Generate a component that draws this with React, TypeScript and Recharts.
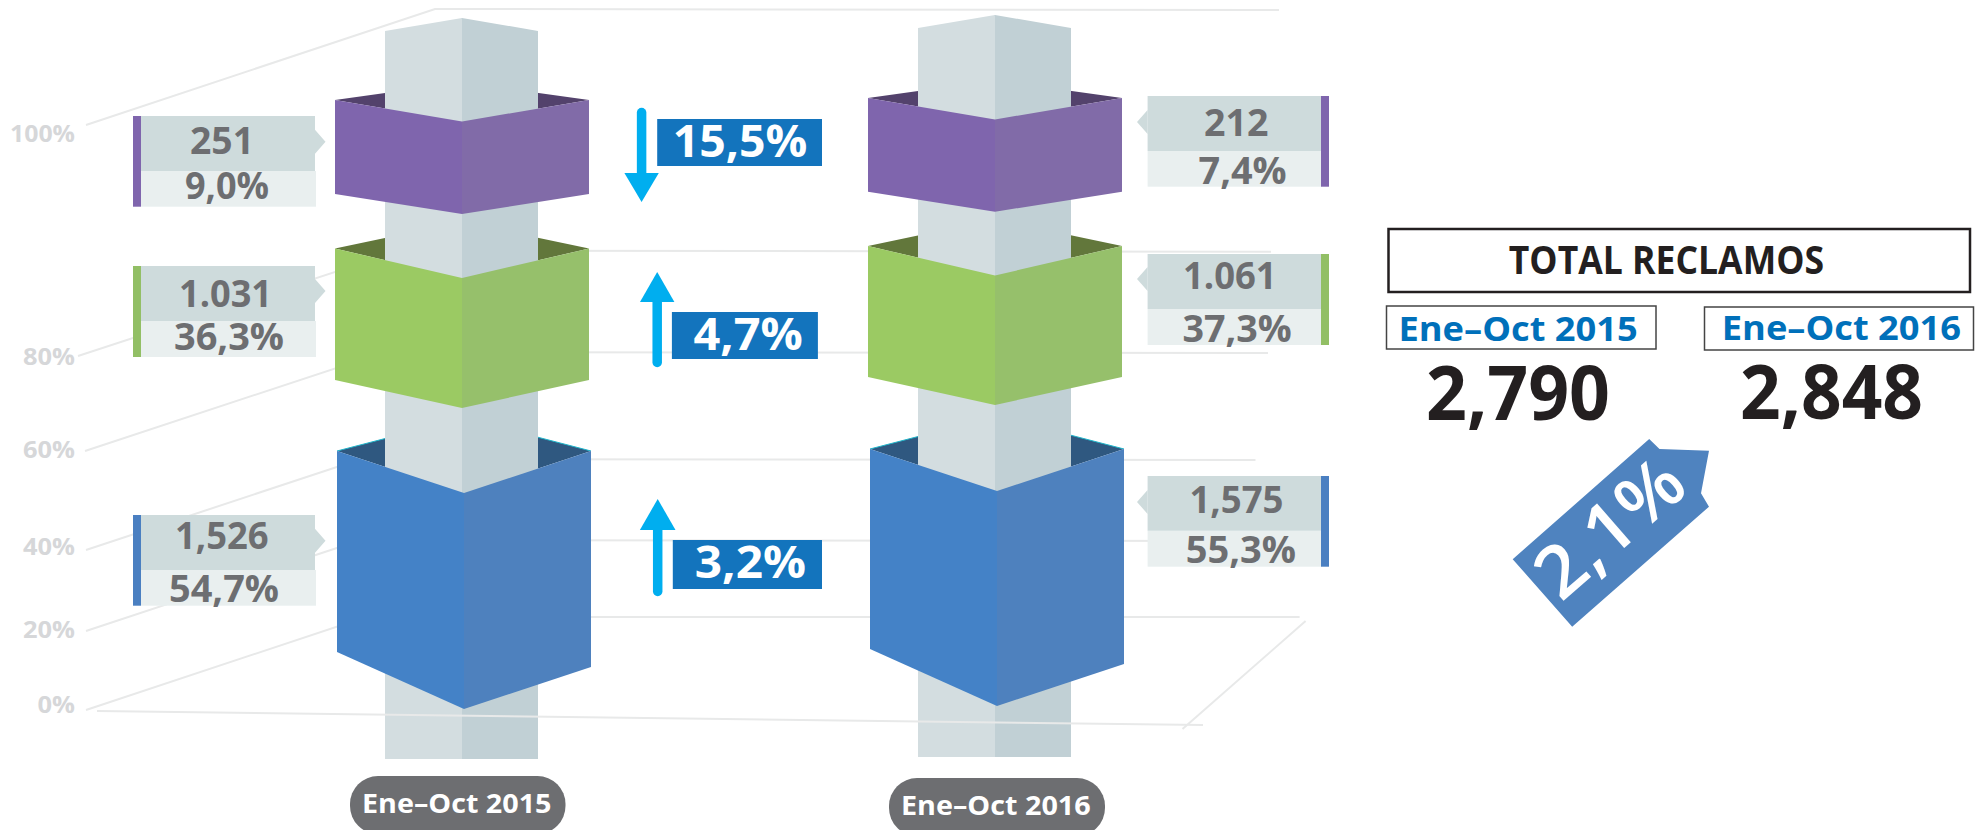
import React from "react";
import { ComposedChart, Bar, XAxis, YAxis } from "recharts";

// ---------- data ----------
const categories = ["Ene–Oct 2015", "Ene–Oct 2016"];
const seriesNames = ["Quejas", "Consultas", "Reclamos"];
const totals = ["2,790", "2,848"];
const totalChange = "2,1%";
const title = "TOTAL RECLAMOS";

const counts2015 = ["1,526", "1.031", "251"];
const counts2016 = ["1,575", "1.061", "212"];
const shares2015 = ["54,7%", "36,3%", "9,0%"];
const shares2016 = ["55,3%", "37,3%", "7,4%"];
const changes = ["3,2%", "4,7%", "15,5%"];

// block heights on the chart's visual axis (the picture's scale is not proportional)
const blueFloor = [58, 61];
const blueHeight = [201, 200];
const greenGap = [71, 72];
const greenHeight = [131.5, 131];
const purpleGap = [54.5, 54.3];
const purpleHeight = [94, 93.7];
const columnRange = [
  [-49, 679],
  [-47, 682],
];

const yTickValues = [5, 80, 163, 260, 353, 576];
const yTickLabels = ["0%", "20%", "40%", "60%", "80%", "100%"];

const tableRows = categories.map((name, i) => ({
  name,
  column: columnRange[i],
  blueFloor: blueFloor[i],
  blue: blueHeight[i],
  greenGap: greenGap[i],
  green: greenHeight[i],
  purpleGap: purpleGap[i],
  purple: purpleHeight[i],
}));

// ---------- layout and style ----------
const FONT = "'Open Sans', sans-serif";
const GRID = "#E8E9E9";
const BLOCK_W = 254;
const COLUMN_W = 153;

const blockStyle: Record<string, any> = {
  blue: { left: "#4482C7", right: "#4E81BE", dark: "#2F5880", edge: "#1FB5C9", dip: 42, drop: 57, rightDrop: 15, rear: 33, dx: 1.5 },
  green: { left: "#9BCA63", right: "#96C06B", dark: "#62773B", dip: 29.5, drop: 28, rightDrop: 0, rear: 26.7, dx: -0.5 },
  purple: { left: "#7F65AD", right: "#816BA8", dark: "#53426C", dip: 21.5, drop: 20, rightDrop: 0, rear: 17.8, dx: -0.5 },
};

const pts = (a: number[][]) => a.map((p) => p.join(",")).join(" ");

const RearShape = (kind: string) => (p: any) => {
  const s = blockStyle[kind];
  const x = p.x + s.dx;
  const cx = x + p.width / 2;
  const r = x + p.width;
  return (
    <g>
      <polygon points={pts([[x, p.y], [cx, p.y - s.rear], [r, p.y], [cx, p.y + s.dip]])} fill={s.dark} />
      {s.edge && (
        <polyline points={pts([[x, p.y], [cx, p.y - s.rear], [r, p.y]])} fill="none" stroke={s.edge} strokeWidth={1} />
      )}
    </g>
  );
};

const FrontShape = (kind: string) => (p: any) => {
  const s = blockStyle[kind];
  const x = p.x + s.dx;
  const cx = Math.round(x + p.width / 2);
  const r = x + p.width;
  const b = p.y + p.height;
  return (
    <g>
      <polygon points={pts([[cx, p.y + s.dip], [r, p.y], [r, b + s.rightDrop], [cx, b + s.drop]])} fill={s.right} />
      <polygon points={pts([[x, p.y], [cx, p.y + s.dip], [cx, b + s.drop], [x, b]])} fill={s.left} />
    </g>
  );
};

const ColumnShape = (p: any) => {
  const x = p.x - 0.5;
  const cx = Math.round(x + p.width / 2);
  const r = x + p.width;
  const b = p.y + p.height;
  return (
    <g>
      <polygon points={pts([[cx - 1, p.y - 13], [cx, p.y - 13], [r, p.y], [r, b], [cx - 1, b]])} fill="#C1D0D5" />
      <polygon points={pts([[x, p.y], [cx, p.y - 13], [cx, b], [x, b]])} fill="#D3DDE0" />
    </g>
  );
};

const pillLayout = [
  { x: 350, y: 776, w: 215.5, tx: 362, tw: 189.5 },
  { x: 889, y: 778, w: 216, tx: 901, tw: 189.7 },
];

const PillTick = (p: any) => {
  const i = categories.indexOf(p.payload.value);
  const l = pillLayout[i];
  return (
    <g>
      <rect x={l.x} y={l.y} width={l.w} height={58} rx={28} fill="#6D6E71" />
      <text
        x={l.tx}
        y={l.y + 37}
        fontFamily={FONT}
        fontWeight={700}
        fontSize={27}
        fill="#FFFFFF"
        textLength={l.tw}
        lengthAdjust="spacingAndGlyphs"
      >
        {p.payload.value}
      </text>
    </g>
  );
};

const yTickWidths = [37.5, 52, 52, 52, 52, 65];
const YTick = (p: any) => {
  const i = yTickValues.indexOf(p.payload.value);
  return (
    <text
      x={75}
      y={p.y + 8}
      textAnchor="end"
      fontFamily={FONT}
      fontWeight={700}
      fontSize={24}
      fill="#D6D7D9"
      textLength={yTickWidths[i]}
      lengthAdjust="spacingAndGlyphs"
    >
      {yTickLabels[i]}
    </text>
  );
};

const T = ({ x0, x1, y, fs, fill, weight = 700, children }: any) => (
  <text
    x={x0}
    y={y}
    fontFamily={FONT}
    fontWeight={weight}
    fontSize={fs}
    fill={fill}
    textLength={x1 - x0}
    lengthAdjust="spacingAndGlyphs"
  >
    {children}
  </text>
);

const wallLines = [
  { from: [86, 710], at: 366, y: 617, end: 1299.6 },
  { from: [86, 631], at: 361, y: 540, end: 1270 },
  { from: [86, 550], at: 361, y: 459, end: 1255.5 },
  { from: [85, 451], at: 385, y: 352, end: 1268 },
  { from: [78, 356], at: 400, y: 250.7, end: 1271 },
  { from: [86, 125], at: 435, y: 9, end: 1279 },
];

const accent = ["#4A7FC1", "#92BF65", "#7F65AD"];

const leftCallouts = [
  { top: 515, mid: 570, bot: 605.7, tip: 540.7, c: [175, 268.6, 549], s: [169, 279, 602] },
  { top: 266, mid: 321, bot: 357, tip: 291, c: [179, 272, 306.5], s: [174, 284, 350] },
  { top: 116, mid: 171, bot: 206.7, tip: 141.7, c: [190, 254, 153.5], s: [185, 269, 199] },
];
const rightCallouts = [
  { top: 476, mid: 530.7, bot: 566.7, tip: 502, c: [1189.4, 1283.5, 513], s: [1185.7, 1296, 562.5] },
  { top: 254, mid: 309, bot: 345, tip: 279, c: [1183, 1276.6, 288.5], s: [1182.5, 1291.8, 342] },
  { top: 96, mid: 151, bot: 186.7, tip: 122, c: [1204, 1268.4, 135.5], s: [1198.6, 1286.7, 184] },
];

const arrowLayout = [
  { cx: 657.7, hw: 17.8, tail: 591.5, base: 530, tip: 499, box: [672.8, 540, 149.2, 49], t: [694.8, 806, 578] },
  { cx: 657.2, hw: 17.2, tail: 362.5, base: 302, tip: 272, box: [671.9, 312, 146, 47], t: [693.5, 802.8, 350] },
  { cx: 641.6, hw: 17.2, tail: 112.5, base: 173, tip: 202, box: [657.2, 119, 164.8, 47], t: [672.8, 807.4, 157] },
];

const Callout = ({ l, side, color, count, share }: any) => {
  const isLeft = side === "left";
  const bx0 = isLeft ? 141 : 1147.6;
  const bx1 = isLeft ? 315 : 1321;
  const ax0 = isLeft ? 133 : 1321;
  const tipX = isLeft ? 325.5 : 1137;
  const edge = isLeft ? bx1 : bx0;
  return (
    <g>
      <rect x={bx0} y={l.mid} width={bx1 - bx0 + 1} height={l.bot - l.mid} fill="#E9EFEF" />
      <polygon points={pts([[bx0, l.top], [bx1, l.top], [bx1, l.mid], [bx0, l.mid]])} fill="#CEDBDC" />
      <polygon points={pts([[edge, l.tip - 12], [tipX, l.tip], [edge, l.tip + 12]])} fill="#CEDBDC" />
      <rect x={ax0} y={l.top} width={8} height={l.bot - l.top} fill={color} />
      <T x0={l.c[0]} x1={l.c[1]} y={l.c[2]} fs={38} fill="#6D6E71">{count}</T>
      <T x0={l.s[0]} x1={l.s[1]} y={l.s[2]} fs={38} fill="#6D6E71">{share}</T>
    </g>
  );
};

const Arrow = ({ a }: any) => (
  <g>
    <line x1={a.cx} x2={a.cx} y1={a.tail} y2={a.base} stroke="#00AEEF" strokeWidth={9.5} strokeLinecap="round" />
    <polygon points={pts([[a.cx - a.hw, a.base], [a.cx, a.tip], [a.cx + a.hw, a.base]])} fill="#00AEEF" />
  </g>
);

export default function App() {
  const ink = "#231F20";
  const blue = "#0070BA";
  return (
    <div style={{ position: "absolute", left: 0, top: 0, width: 1982, height: 830, overflow: "hidden", background: "#fff" }}>
      {/* back wall and side grid */}
      <svg width={1982} height={830} style={{ position: "absolute", left: 0, top: 0 }}>
        {wallLines.map((w, i) => (
          <polyline
            key={i}
            points={pts([w.from, [w.at, w.y], [w.end, w.y + (i === 0 ? 0 : 1)]])}
            fill="none"
            stroke={GRID}
            strokeWidth={2}
          />
        ))}
        <line x1={1305.6} y1={621} x2={1182.5} y2={729} stroke={GRID} strokeWidth={2} />
      </svg>

      <div style={{ position: "absolute", left: 0, top: 0 }}>
        <ComposedChart
          width={1982}
          height={830}
          data={tableRows}
          margin={{ top: 0, right: 720.5, bottom: 0, left: 0 }}
          barCategoryGap={0}
        >
          <XAxis
            xAxisId="front"
            dataKey="name"
            height={60}
            axisLine={false}
            tickLine={false}
            interval={0}
            tick={PillTick}
          />
          <XAxis xAxisId="rear" dataKey="name" hide />
          <XAxis xAxisId="pole" dataKey="name" hide />
          <YAxis
            type="number"
            domain={[-60, 710]}
            width={195.5}
            ticks={yTickValues}
            interval={0}
            axisLine={false}
            tickLine={false}
            tick={YTick}
          />

          <Bar xAxisId="rear" stackId="r" dataKey="blueFloor" fill="none" barSize={BLOCK_W} isAnimationActive={false} />
          <Bar xAxisId="rear" stackId="r" dataKey="blue" shape={RearShape("blue")} isAnimationActive={false} />
          <Bar xAxisId="rear" stackId="r" dataKey="greenGap" fill="none" isAnimationActive={false} />
          <Bar xAxisId="rear" stackId="r" dataKey="green" shape={RearShape("green")} isAnimationActive={false} />
          <Bar xAxisId="rear" stackId="r" dataKey="purpleGap" fill="none" isAnimationActive={false} />
          <Bar xAxisId="rear" stackId="r" dataKey="purple" shape={RearShape("purple")} isAnimationActive={false} />

          <Bar xAxisId="pole" dataKey="column" barSize={COLUMN_W} shape={ColumnShape} isAnimationActive={false} />

          <Bar xAxisId="front" stackId="f" dataKey="blueFloor" fill="none" barSize={BLOCK_W} isAnimationActive={false} />
          <Bar xAxisId="front" stackId="f" dataKey="blue" name={seriesNames[0]} shape={FrontShape("blue")} isAnimationActive={false} />
          <Bar xAxisId="front" stackId="f" dataKey="greenGap" fill="none" isAnimationActive={false} />
          <Bar xAxisId="front" stackId="f" dataKey="green" name={seriesNames[1]} shape={FrontShape("green")} isAnimationActive={false} />
          <Bar xAxisId="front" stackId="f" dataKey="purpleGap" fill="none" isAnimationActive={false} />
          <Bar xAxisId="front" stackId="f" dataKey="purple" name={seriesNames[2]} shape={FrontShape("purple")} isAnimationActive={false} />
        </ComposedChart>
      </div>

      {/* annotations */}
      <svg width={1982} height={830} style={{ position: "absolute", left: 0, top: 0 }}>
        <line x1={97} y1={711} x2={1203} y2={725} stroke={GRID} strokeWidth={2} />

        {leftCallouts.map((l, i) => (
          <Callout key={i} l={l} side="left" color={accent[i]} count={counts2015[i]} share={shares2015[i]} />
        ))}
        {rightCallouts.map((l, i) => (
          <Callout key={i} l={l} side="right" color={accent[i]} count={counts2016[i]} share={shares2016[i]} />
        ))}

        {arrowLayout.map((a, i) => (
          <g key={i}>
            <Arrow a={a} />
            <rect x={a.box[0]} y={a.box[1]} width={a.box[2]} height={a.box[3]} fill="#1374BD" />
            <T x0={a.t[0]} x1={a.t[1]} y={a.t[2]} fs={44} fill="#FFFFFF">{changes[i]}</T>
          </g>
        ))}

        <rect x={1388.5} y={229} width={581.5} height={63} fill="none" stroke={ink} strokeWidth={2.5} />
        <T x0={1508.8} x1={1824} y={273.5} fs={39} fill={ink}>{title}</T>

        <rect x={1386.5} y={306} width={269.5} height={43} fill="none" stroke="#444" strokeWidth={1.5} />
        <T x0={1398.5} x1={1637.7} y={341} fs={34} fill={blue}>{categories[0]}</T>
        <rect x={1704.5} y={307} width={269} height={43} fill="none" stroke="#444" strokeWidth={1.5} />
        <T x0={1721.8} x1={1961} y={340} fs={34} fill={blue}>{categories[1]}</T>

        <T x0={1426} x1={1610} y={420} fs={76} fill={ink}>{totals[0]}</T>
        <T x0={1740} x1={1923} y={419} fs={76} fill={ink}>{totals[1]}</T>

        <polygon
          points={pts([[1512.7, 559.3], [1649.2, 439], [1659.5, 449], [1709, 450.7], [1701, 493.3], [1709, 506.7], [1572.2, 626.7]])}
          fill="#4F83BF"
        />
        <text
          transform="translate(1561 603) rotate(-41)"
          fontFamily={FONT}
          fontWeight={600}
          fontSize={72}
          fill="#FFFFFF"
          textLength={172}
          lengthAdjust="spacingAndGlyphs"
        >
          {totalChange}
        </text>
      </svg>
    </div>
  );
}
